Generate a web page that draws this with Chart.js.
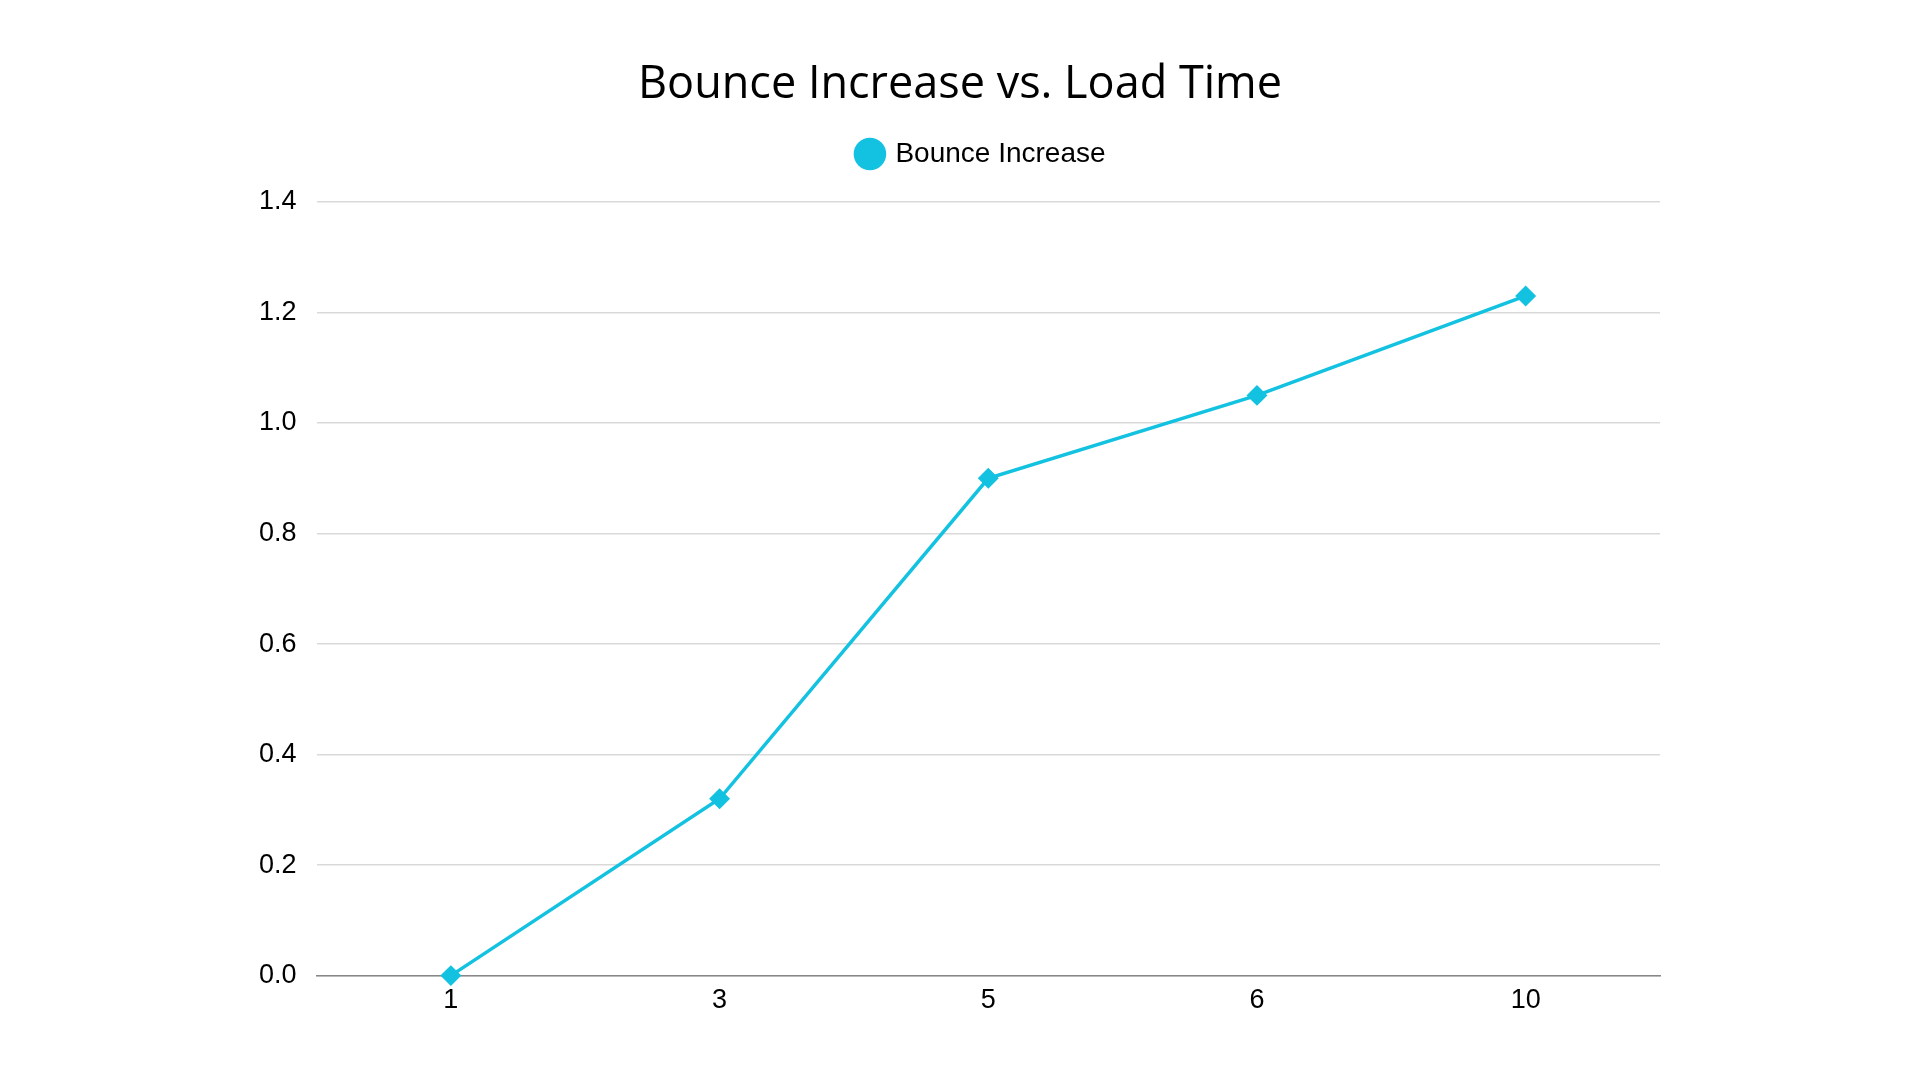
<!DOCTYPE html>
<html>
<head>
<meta charset="utf-8">
<script src="https://cdn.jsdelivr.net/npm/chart.js@4.4.0/dist/chart.umd.min.js"></script>
<style>
html,body{margin:0;padding:0;background:#fff;}
#wrap{width:1920px;height:1080px;position:relative;}
</style>
</head>
<body>
<div id="wrap"><canvas id="c" width="1920" height="1080"></canvas></div>
<script>
const categories = ["1", "3", "5", "6", "10"];
const bounceIncrease = [0, 0.32, 0.9, 1.05, 1.23];
const seriesName = "Bounce Increase";
const chartTitle = "Bounce Increase vs. Load Time";

const color = "#12C2E0";

const legendSpacer = {
  id: "legendSpacer",
  beforeInit(chart) {
    const origFit = chart.legend.fit;
    chart.legend.fit = function () {
      origFit.bind(chart.legend)();
      this.height += 24;
    };
  },
  afterLayout(chart) {
    chart.legend.left += 22;
    chart.legend.right += 22;
  }
};

new Chart(document.getElementById("c"), {
  type: "line",
  plugins: [legendSpacer],
  data: {
    labels: categories,
    datasets: [{
      label: seriesName,
      data: bounceIncrease,
      borderColor: color,
      backgroundColor: color,
      borderWidth: 3.5,
      pointStyle: "rectRot",
      pointRadius: 8,
      pointHoverRadius: 8,
      pointBackgroundColor: color,
      pointBorderColor: color,
      tension: 0,
      clip: false
    }]
  },
  options: {
    responsive: false,
    animation: false,
    layout: { padding: { left: 239, right: 239, top: 40, bottom: 54 } },
    plugins: {
      title: {
        display: true,
        text: chartTitle,
        color: "#000",
        font: { family: "'Open Sans', sans-serif", size: 45, weight: "normal" },
        padding: { top: 18, bottom: 18 }
      },
      legend: {
        display: true,
        labels: {
          usePointStyle: true,
          pointStyle: "circle",
          boxWidth: 23,
          boxHeight: 23,
          color: "#000",
          padding: 10,
          font: { family: "'Liberation Sans', sans-serif", size: 28 },
          generateLabels: (chart) => [{
            text: seriesName, fillStyle: color, strokeStyle: color, lineWidth: 0,
            pointStyle: "circle", datasetIndex: 0, fontColor: "#000"
          }]
        }
      },
      tooltip: { enabled: false }
    },
    scales: {
      x: {
        offset: true,
        grid: { display: false, drawTicks: false },
        border: { display: true, color: "#888", width: 1.5 },
        ticks: { color: "#000", padding: 9, font: { family: "'Liberation Sans', Arial, sans-serif", size: 27 } }
      },
      y: {
        min: 0, max: 1.4,
        ticks: {
          stepSize: 0.2, color: "#000", padding: 20,
          font: { family: "'Liberation Sans', Arial, sans-serif", size: 27 },
          callback: (v) => Number(v).toFixed(1)
        },
        grid: { color: "#d9d9d9", lineWidth: 1.5, drawTicks: false },
        border: { display: false }
      },
      ySpacer: {
        position: "right",
        display: true,
        min: 0, max: 1.4,
        ticks: { display: false },
        grid: { display: false, drawTicks: false },
        border: { display: false },
        afterFit: (s) => { s.width = 21; }
      }
    }
  }
});
</script>
</body>
</html>
